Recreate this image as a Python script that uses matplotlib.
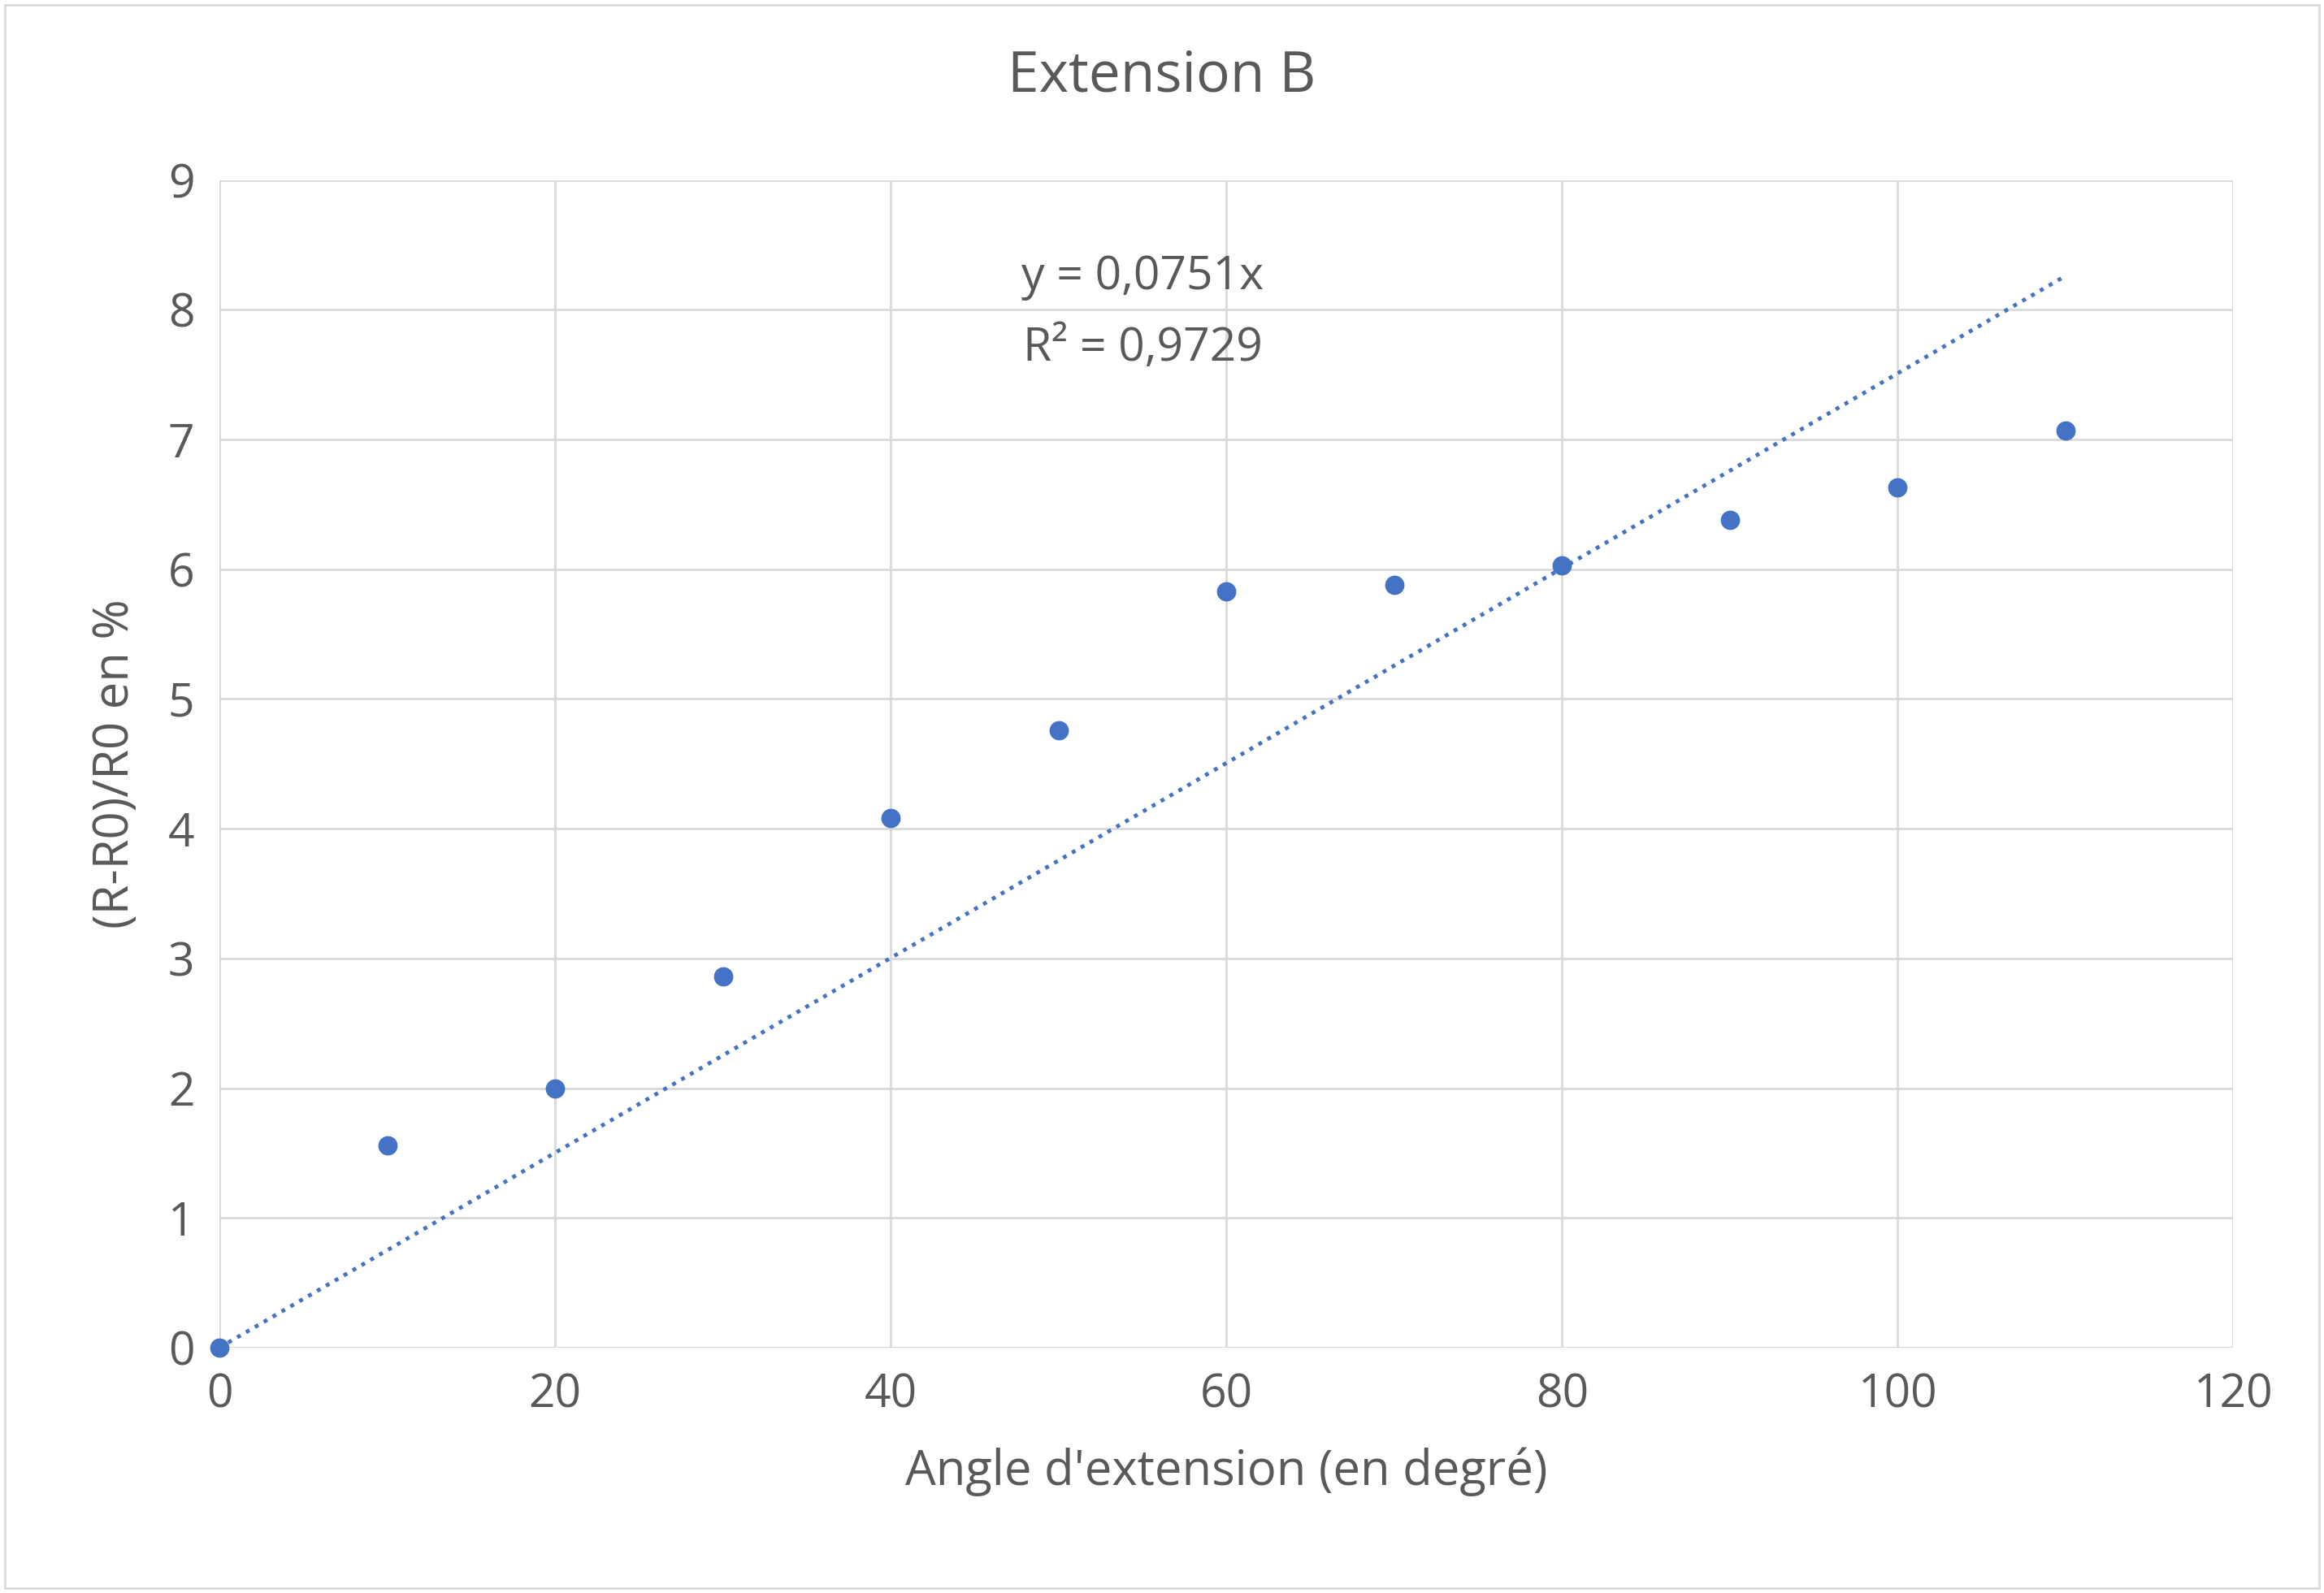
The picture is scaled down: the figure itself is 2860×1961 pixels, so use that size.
import matplotlib
matplotlib.use("Agg")
import matplotlib.pyplot as plt
from matplotlib.patches import Rectangle
import numpy as np

angles = [0, 10, 20, 30, 40, 50, 60, 70, 80, 90, 100, 110]
ratios = [0.0, 1.56, 2.0, 2.86, 4.08, 4.76, 5.83, 5.88, 6.03, 6.38, 6.63, 7.07]
slope = 0.0751
r2 = 0.9729

TXT = "#595959"
BLUE = "#4472C4"
plt.rcParams["font.family"] = ["Open Sans", "DejaVu Sans"]

fig = plt.figure(figsize=(28.6, 19.61), dpi=100)
ax = fig.add_axes([0.0944, 0.154, 0.8666, 0.733])

xs = np.array([0, max(angles)])
ax.plot(xs, slope * xs, linestyle=(0, (1, 1.6)), color=BLUE, linewidth=3.5, zorder=2)
ax.scatter(angles, ratios, s=260, color=BLUE, zorder=3, clip_on=False)

ax.set_xlim(0, 120)
ax.set_ylim(0, 9)
ax.set_xticks(range(0, 121, 20))
ax.set_yticks(range(0, 10))
ax.grid(True, color="#d9d9d9", linewidth=2)
ax.set_axisbelow(True)
for s in ax.spines.values():
    s.set_visible(False)
ax.axhline(0, color="#d9d9d9", linewidth=2, zorder=1)
ax.tick_params(length=0, labelsize=41, labelcolor=TXT, pad=22)

ax.set_xlabel("Angle d'extension (en degré)", fontsize=43, color=TXT, labelpad=25)
ax.set_ylabel("(R-R0)/R0 en %", fontsize=43, color=TXT, labelpad=25)
fig.text(0.5, 0.952, "Extension B", fontsize=50, color=TXT, ha="center", va="center")

ax.text(55, 8.25, f"y = {slope:.4f}x".replace(".", ","), fontsize=41, color=TXT,
        ha="center", va="center")
ax.text(55, 7.7, f"R² = {r2:.4f}".replace(".", ","), fontsize=41, color=TXT,
        ha="center", va="center")

fig.patches.append(Rectangle((0.002, 0.003), 0.996, 0.994, transform=fig.transFigure,
                             fill=False, edgecolor="#d9d9d9", linewidth=2))

fig.savefig("out.png", dpi=100)
